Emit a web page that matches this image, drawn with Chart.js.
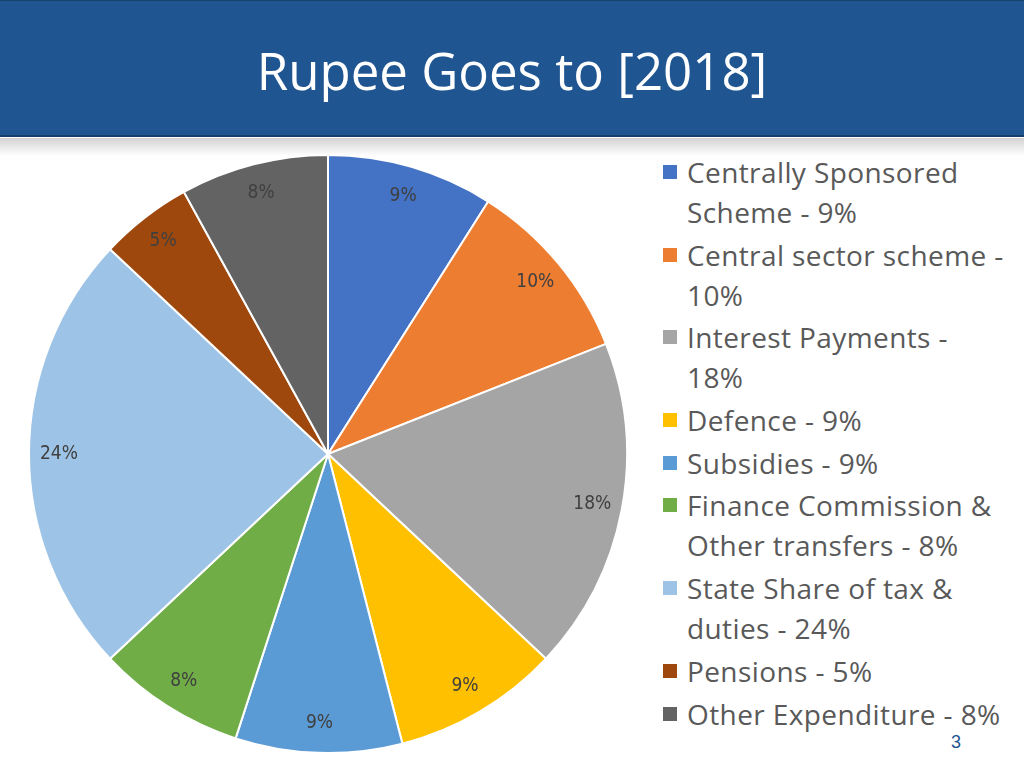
<!DOCTYPE html>
<html>
<head>
<meta charset="utf-8">
<script src="https://cdn.jsdelivr.net/npm/chart.js@4.4.0/dist/chart.umd.min.js"></script>
<style>
  html, body { margin: 0; padding: 0; width: 1024px; height: 768px; background: #fff; overflow: hidden; font-family: 'Open Sans', sans-serif; }
  #banner { position: absolute; left: 0; top: 0; width: 1024px; height: 134px; background: #1F5591; border-top: 1px solid #17406d; border-bottom: 2px solid #173f6c; box-sizing: content-box; }
  #shadow { position: absolute; left: 0; top: 138px; width: 1024px; height: 18px; background: linear-gradient(#d2d2d2, #ffffff); }
  #title { position: absolute; left: 0; top: 0; width: 1024px; height: 136px; line-height: 140px; text-align: center; color: #fff; font-size: 51px; font-weight: 400; }
  #chartBox { position: absolute; left: 28px; top: 154px; width: 600px; height: 600px; }
  #legend { position: absolute; left: 663px; top: 152px; width: 342px; list-style: none; margin: 0; padding: 0; }
  #legend li { position: relative; padding-left: 24px; font-size: 28px; letter-spacing: 0.4px; line-height: 40px; color: #595959; margin-bottom: 2.7px; }
  #legend li span.sw { position: absolute; left: 0; top: 13px; width: 14px; height: 14px; }
  #page { position: absolute; left: 951px; top: 732px; font-size: 18px; color: #1F5591; font-family: 'Liberation Sans', sans-serif; }
</style>
</head>
<body>
<div id="banner"></div>
<div id="shadow"></div>
<div id="title">Rupee Goes to [2018]</div>
<div id="chartBox"><canvas id="c"></canvas></div>
<ul id="legend"></ul>
<div id="page">3</div>
<script>
const categories = [
  "Centrally Sponsored Scheme",
  "Central sector scheme",
  "Interest Payments",
  "Defence",
  "Subsidies",
  "Finance Commission & Other transfers",
  "State Share of tax & duties",
  "Pensions",
  "Other Expenditure"
];
const shares = [9, 10, 18, 9, 9, 8, 24, 5, 8];
const colors = ["#4472C4", "#ED7D31", "#A5A5A5", "#FFC000", "#5B9BD5", "#70AD47", "#9DC3E6", "#9E480E", "#636363"];

const legendEl = document.getElementById('legend');
categories.forEach((cat, i) => {
  const li = document.createElement('li');
  const sw = document.createElement('span');
  sw.className = 'sw';
  sw.style.background = colors[i];
  li.appendChild(sw);
  li.appendChild(document.createTextNode(cat + ' - ' + shares[i] + '%'));
  legendEl.appendChild(li);
});

const labelPlugin = {
  id: 'sliceLabels',
  afterDatasetsDraw(chart) {
    const ctx = chart.ctx;
    const meta = chart.getDatasetMeta(0);
    ctx.save();
    ctx.fillStyle = '#404040';
    ctx.font = "19px 'Liberation Sans Narrow', 'DejaVu Sans Condensed', sans-serif";
    ctx.textAlign = 'center';
    ctx.textBaseline = 'middle';
    meta.data.forEach((arc, i) => {
      const p = arc.getProps(['x', 'y', 'startAngle', 'endAngle', 'outerRadius'], true);
      const mid = (p.startAngle + p.endAngle) / 2;
      const r = p.outerRadius * 0.9;
      ctx.fillText(shares[i] + '%', p.x + Math.cos(mid) * r, p.y + Math.sin(mid) * r);
    });
    ctx.restore();
  }
};

new Chart(document.getElementById('c'), {
  type: 'pie',
  data: {
    labels: categories,
    datasets: [{
      data: shares,
      backgroundColor: colors,
      borderColor: '#ffffff',
      borderWidth: 2
    }]
  },
  options: {
    responsive: true,
    maintainAspectRatio: false,
    animation: false,
    layout: { padding: 0 },
    plugins: {
      legend: { display: false },
      tooltip: { enabled: false }
    }
  },
  plugins: [labelPlugin]
});
</script>
</body>
</html>
